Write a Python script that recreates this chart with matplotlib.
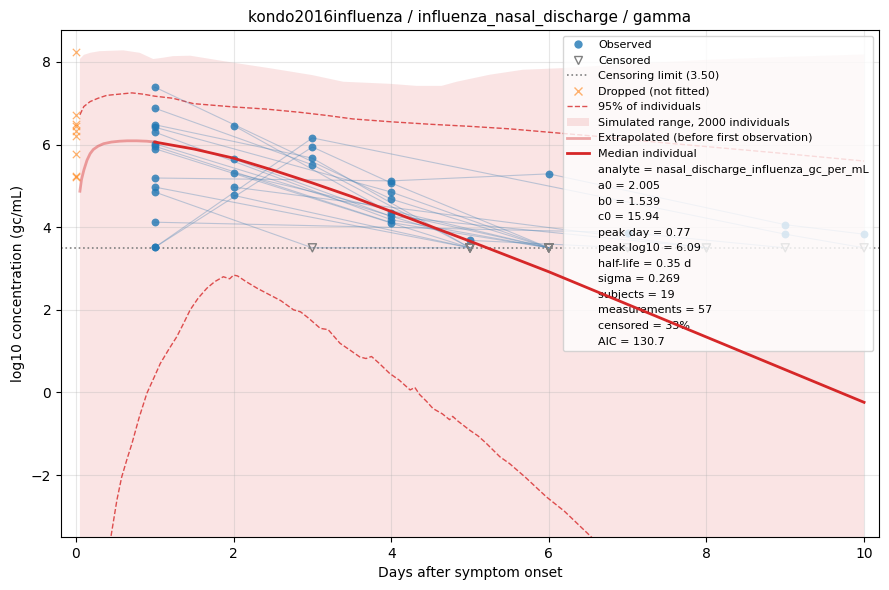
import numpy as np
import matplotlib
matplotlib.use("Agg")
import matplotlib.pyplot as plt
from matplotlib.lines import Line2D
from matplotlib.patches import Patch

# ---------------- data ----------------
LOD = 3.5

# subjects: (days, values, censored flags)
subj_days = [
    [1, 4, 6], [1, 3, 5], [1, 3, 5], [1, 4, 6], [1, 4, 6], [1, 5, 7], [1, 4, 6],
    [1, 5], [1, 4, 6, 9, 10], [1, 5], [1, 3, 5], [1, 7, 9], [1, 3, 9, 10],
    [1, 3, 4, 6], [2, 4, 6], [2, 4, 8], [2, 6], [2, 8], [2, 5],
]
subj_vals = [
    [7.39, 4.68, 3.5], [6.88, 5.51, 3.5], [6.48, 5.67, 3.5], [6.42, 4.85, 3.5],
    [6.30, 4.18, 3.5], [6.02, 3.68, 3.5], [5.96, 4.11, 3.5], [5.90, 3.5],
    [5.19, 5.12, 5.29, 4.06, 3.83], [4.97, 3.5], [4.85, 3.5, 3.5], [4.12, 3.87, 3.5],
    [3.51, 6.16, 3.83, 3.5], [3.51, 5.94, 5.07, 3.5], [6.46, 4.34, 3.5],
    [5.65, 4.26, 3.5], [5.31, 3.5], [4.97, 3.5], [4.77, 3.5],
]
subj_cens = [
    [0, 0, 1], [0, 0, 1], [0, 0, 1], [0, 0, 1], [0, 0, 1], [0, 0, 1], [0, 0, 1],
    [0, 1], [0, 0, 0, 0, 0], [0, 1], [0, 1, 1], [0, 0, 1], [0, 0, 0, 1],
    [0, 0, 0, 1], [0, 0, 1], [0, 0, 1], [0, 1], [0, 1], [0, 1],
]

dropped_days = [0, 0, 0, 0, 0, 0, 0, 0, 0]
dropped_vals = [8.25, 6.72, 6.50, 6.45, 6.33, 6.20, 5.78, 5.25, 5.22]

# simulated range (upper edge; lower edge lies below the axis)
sim_t = [0.05, 0.1, 0.18, 0.3, 0.45, 0.6, 0.81, 0.98, 1.1, 1.23, 1.45, 2.0, 2.45,
         2.71, 3.0, 3.39, 3.98, 4.32, 4.64, 4.83, 5.25, 5.67, 6.18, 6.6, 7.0, 7.5,
         8.0, 9.0, 10.0]
sim_hi = [8.07, 8.17, 8.22, 8.26, 8.27, 8.28, 8.22, 8.07, 8.10, 8.14, 8.15, 7.98, 7.85,
          7.77, 7.68, 7.52, 7.47, 7.42, 7.42, 7.52, 7.69, 7.81, 7.85, 7.90, 7.95, 8.0,
          8.05, 8.12, 8.18]
sim_lo = [-9.0] * len(sim_t)

# 95% of individuals
p95_hi_t = [0.05, 0.1, 0.18, 0.28, 0.39, 0.55, 0.71, 0.85, 1.0, 1.23, 1.49, 2.0, 2.4,
            2.84, 3.2, 3.51, 4.0, 4.5, 5.0, 5.5, 6.17, 6.6, 7.0, 8.0, 9.0, 10.0]
p95_hi = [6.72, 6.92, 7.04, 7.12, 7.19, 7.22, 7.25, 7.22, 7.17, 7.12, 6.99, 6.91, 6.86,
          6.78, 6.70, 6.62, 6.55, 6.49, 6.44, 6.38, 6.27, 6.2, 6.12, 5.95, 5.78, 5.6]

p95_lo_t = [0.40, 0.45, 0.52, 0.58, 0.65, 0.71, 0.80, 0.90, 1.0, 1.07, 1.18, 1.28, 1.36,
            1.45, 1.55, 1.66, 1.76, 1.87, 1.95, 2.0, 2.05, 2.16, 2.3, 2.42, 2.50, 2.6,
            2.76, 2.85, 2.95, 3.10, 3.2, 3.35, 3.48, 3.60, 3.68, 3.75, 3.85, 3.98, 4.1,
            4.24, 4.3, 4.36, 4.45, 4.53, 4.65, 4.74, 4.78, 4.85, 5.0, 5.1, 5.2, 5.38,
            5.5, 5.7, 5.97, 6.2, 6.54, 6.8]
p95_lo = [-4.0, -3.42, -2.6, -2.05, -1.6, -1.24, -0.62, -0.02, 0.4, 0.70, 1.05, 1.35, 1.65,
          2.0, 2.28, 2.52, 2.68, 2.80, 2.75, 2.84, 2.82, 2.68, 2.52, 2.40, 2.32, 2.22,
          2.0, 1.95, 1.80, 1.55, 1.52, 1.19, 1.02, 0.86, 0.82, 0.87, 0.70, 0.46, 0.30,
          0.06, 0.12, -0.05, -0.22, -0.39, -0.52, -0.66, -0.58, -0.70, -0.92, -1.05, -1.22, -1.56,
          -1.72, -2.05, -2.53, -2.88, -3.5, -4.0]

# median individual
ext_t = [0.05, 0.07, 0.1, 0.14, 0.18, 0.22, 0.28, 0.35, 0.45, 0.55, 0.65, 0.77, 0.9, 1.0]
ext_v = [4.87, 5.15, 5.38, 5.62, 5.78, 5.88, 5.96, 6.02, 6.06, 6.08, 6.09, 6.09, 6.08, 6.06]
med_t = [1.0, 1.5, 2.0, 2.5, 3.0, 3.5, 4.0, 4.5, 5.0, 5.5, 6.0, 7.0, 8.0, 9.0, 10.0]
med_v = [6.06, 5.89, 5.67, 5.38, 5.07, 4.74, 4.38, 4.02, 3.66, 3.29, 2.92, 2.13, 1.34, 0.55, -0.24]

info_lines = [
    "analyte = nasal_discharge_influenza_gc_per_mL",
    "a0 = 2.005",
    "b0 = 1.539",
    "c0 = 15.94",
    "peak day = 0.77",
    "peak log10 = 6.09",
    "half-life = 0.35 d",
    "sigma = 0.269",
    "subjects = 19",
    "measurements = 57",
    "censored = 33%",
    "AIC = 130.7",
]

# ---------------- plotting ----------------
RED = "#d62728"
fig, ax = plt.subplots(figsize=(8.89, 5.9), dpi=100)
fig.subplots_adjust(left=0.0686, right=0.9888, top=0.949, bottom=0.0898)

ax.fill_between(sim_t, sim_lo, sim_hi, color=RED, alpha=0.12, linewidth=0, zorder=1)
ax.plot(p95_hi_t, p95_hi, ls="--", color=RED, alpha=0.8, lw=1.0, zorder=2)
ax.plot(p95_lo_t, p95_lo, ls="--", color=RED, alpha=0.8, lw=1.0, zorder=2)

for d, v in zip(subj_days, subj_vals):
    ax.plot(d, v, color="steelblue", alpha=0.35, lw=0.8, zorder=3)

obs_x, obs_y, cen_x, cen_y = [], [], [], []
for d, v, c in zip(subj_days, subj_vals, subj_cens):
    for di, vi, ci in zip(d, v, c):
        if ci:
            cen_x.append(di); cen_y.append(vi)
        else:
            obs_x.append(di); obs_y.append(vi)

ax.axhline(LOD, color="gray", ls=":", lw=1.2, zorder=2)
ax.scatter(obs_x, obs_y, s=32, color="#1f77b4", alpha=0.8, zorder=5, linewidths=0)
ax.scatter(cen_x, cen_y, s=34, marker="v", facecolors="none", edgecolors="gray",
           linewidths=1.0, zorder=5)
ax.scatter(dropped_days, dropped_vals, s=28, marker="x", color="#ff7f0e", alpha=0.6,
           linewidths=0.9, zorder=5)

ax.plot(ext_t, ext_v, color=RED, alpha=0.4, lw=2.0, zorder=4)
ax.plot(med_t, med_v, color=RED, lw=2.0, zorder=6)

ax.set_xlim(-0.19, 10.19)
ax.set_ylim(-3.5, 8.77)
ax.set_xlabel("Days after symptom onset")
ax.set_ylabel("log10 concentration (gc/mL)")
ax.set_title("kondo2016influenza / influenza_nasal_discharge / gamma", fontsize=11)
ax.grid(True, alpha=0.3)

handles = [
    Line2D([], [], marker="o", ls="none", color="#1f77b4", alpha=0.8, markersize=6,
           markeredgewidth=0),
    Line2D([], [], marker="v", ls="none", markerfacecolor="none", markeredgecolor="gray",
           markersize=6),
    Line2D([], [], ls=":", color="gray", lw=1.2),
    Line2D([], [], marker="x", ls="none", color="#ff7f0e", alpha=0.6, markersize=5.5),
    Line2D([], [], ls="--", color=RED, alpha=0.8, lw=1.0),
    Patch(facecolor=RED, alpha=0.12, linewidth=0),
    Line2D([], [], color=RED, alpha=0.4, lw=2.0),
    Line2D([], [], color=RED, lw=2.0),
]
labels = [
    "Observed", "Censored", "Censoring limit (3.50)", "Dropped (not fitted)",
    "95% of individuals", "Simulated range, 2000 individuals",
    "Extrapolated (before first observation)", "Median individual",
]
for line in info_lines:
    handles.append(Line2D([], [], ls="none"))
    labels.append(line)

ax.legend(handles, labels, loc="upper right", fontsize=8, labelspacing=0.5,
          framealpha=0.8)

fig.savefig("out.png", dpi=100)
